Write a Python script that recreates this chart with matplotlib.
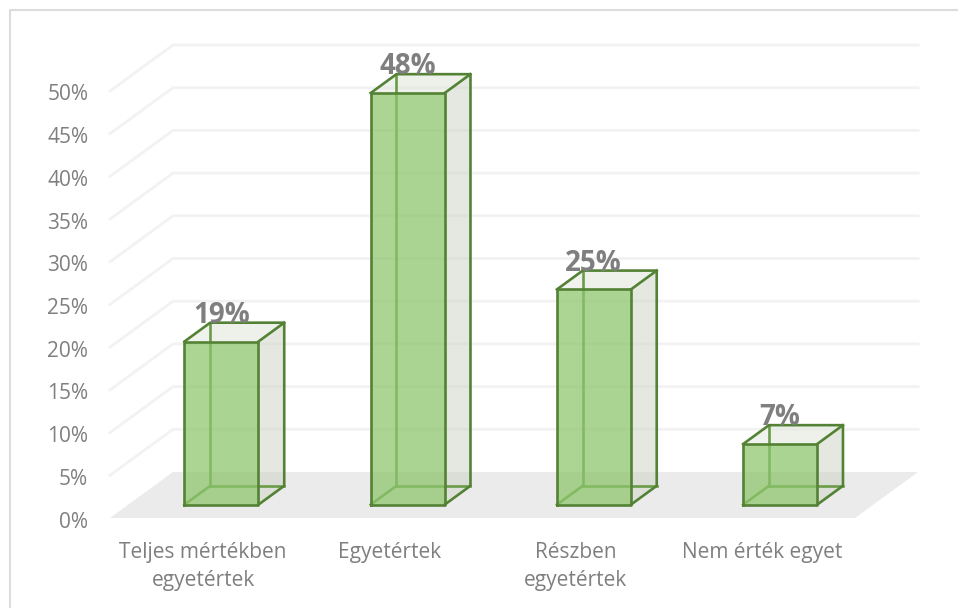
import matplotlib
matplotlib.use('Agg')
import matplotlib.pyplot as plt
from matplotlib.patches import Polygon
from matplotlib.lines import Line2D
from matplotlib.transforms import ScaledTranslation

categories = ['Teljes mértékben\negyetértek', 'Egyetértek', 'Részben\negyetértek', 'Nem érték egyet']
values = [19.1, 48.2, 25.2, 7.1]
labels = ['19%', '48%', '25%', '7%']
ticks = list(range(0, 55, 5))

W, H = 958, 608
plt.rcParams['font.family'] = ['Open Sans', 'DejaVu Sans']
fig = plt.figure(figsize=(W/100, H/100), dpi=100)
fig.add_artist(Line2D([9.5/W, 9.5/W, 1], [0, 1-9.5/H, 1-9.5/H], color='#dcdcdc', lw=1.5, zorder=-5))
L, R, B, T = 110, 855, 518, 91
ax = fig.add_axes([L/W, 1-B/H, (R-L)/W, (B-T)/H])
ax.set_xlim(-0.5, 3.5)
ax.set_ylim(0, 50)
ax.patch.set_visible(False)
for s in ax.spines.values():
    s.set_visible(False)
sx, sy = (R-L)/4, (B-T)/50
DX, DY = 63/sx, 46/sy   # wall depth in data units


def P(x, y, d=0.0):
    return (x + d*DX, y + d*DY)


def poly(pts, **kw):
    ax.add_patch(Polygon(pts, closed=True, clip_on=False, **kw))


# floor
poly([P(-.5, 0), P(3.5, 0), P(3.5, 0, 1), P(-.5, 0, 1)], fc='#ebebeb', ec='none', zorder=1)
# gridlines
for t in ticks[1:]:
    a, b, c = P(-.5, t), P(-.5, t, 1), P(3.5, t, 1)
    ax.plot([a[0], b[0], c[0]], [a[1], b[1], c[1]], color='#f2f2f2', lw=2,
            clip_on=False, zorder=2, solid_joinstyle='miter')

hw = 37/sx
d0, d1 = 0.29, 0.70
green = '#548235'
for i, v in enumerate(values):
    l, r = i-hw, i+hw
    # back, floor, left hidden faces
    poly([P(l, 0, d1), P(r, 0, d1), P(r, v, d1), P(l, v, d1)], fc='#a9c79a', alpha=.06, ec='none', zorder=3)
    poly([P(r, 0, d0), P(r, 0, d1), P(r, v, d1), P(r, v, d0)], fc='#d0d6c9', alpha=.5, ec='none', zorder=3)
    poly([P(l, v, d0), P(r, v, d0), P(r, v, d1), P(l, v, d1)], fc='#e2e8dc', alpha=.5, ec='none', zorder=3)
    # hidden edges
    for a, b in [(P(l, 0, d0), P(l, 0, d1)), (P(l, 0, d1), P(r, 0, d1)), (P(l, 0, d1), P(l, v, d1))]:
        ax.plot([a[0], b[0]], [a[1], b[1]], color='#6a9c48', lw=1.9, clip_on=False, zorder=4)
    # front
    poly([P(l, 0, d0), P(r, 0, d0), P(r, v, d0), P(l, v, d0)], fc='#8cc56b', alpha=.72, ec='none', zorder=5)
    # visible edges
    for pts in [[P(l, 0, d0), P(r, 0, d0), P(r, v, d0), P(l, v, d0), P(l, 0, d0)],
                [P(r, 0, d0), P(r, 0, d1), P(r, v, d1), P(l, v, d1), P(l, v, d0)],
                [P(r, v, d0), P(r, v, d1)]]:
        ax.plot([p[0] for p in pts], [p[1] for p in pts], color=green, lw=1.9, clip_on=False,
                zorder=6, solid_joinstyle='round')
    x, y = P(i, v, d1)
    ax.annotate(labels[i], (x, y), xytext=(-26, 0), textcoords='offset pixels', ha='center', va='baseline',
                fontsize=20, fontweight='bold', color='#7f7f7f', zorder=7, annotation_clip=False)

ax.set_yticks(ticks)
ax.set_yticklabels([f'{t}%' for t in ticks])
ax.set_xticks(range(4))
ax.set_xticklabels(categories, linespacing=1.42)
ax.tick_params(axis='both', length=0, labelcolor='#7f7f7f', labelsize=15)
ax.tick_params(axis='y', pad=15.7)
ax.tick_params(axis='x', pad=17.5)
shift = ScaledTranslation(0, -1.5/100, fig.dpi_scale_trans)
for lab in ax.get_yticklabels():
    lab.set_transform(lab.get_transform() + shift)
fig.savefig('out.png', dpi=100)
